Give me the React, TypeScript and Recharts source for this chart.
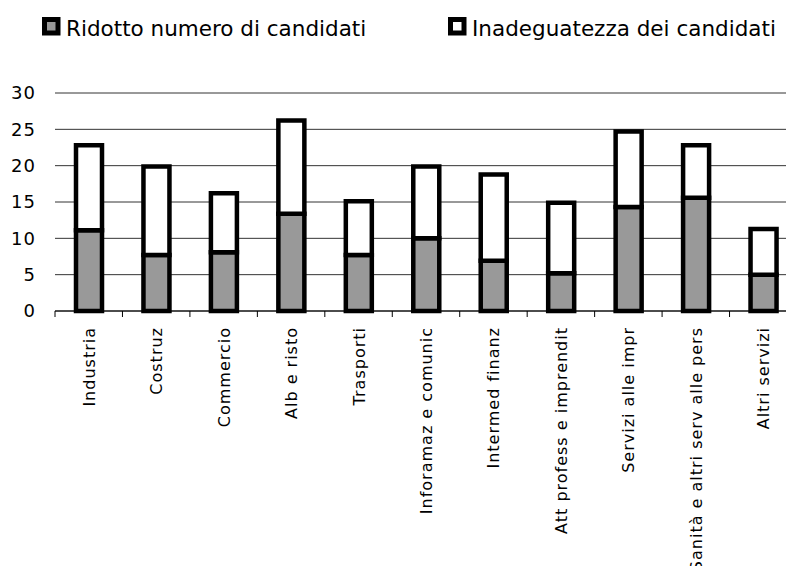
import React from "react";
import { BarChart, Bar, XAxis, YAxis, CartesianGrid } from "recharts";

const categories = [
  "Industria",
  "Costruz",
  "Commercio",
  "Alb e risto",
  "Trasporti",
  "Inforamaz e comunic",
  "Intermed finanz",
  "Att profess e imprendit",
  "Servizi alle impr",
  "Sanità e altri serv alle pers",
  "Altri servizi",
];

const seriesNames = ["Ridotto numero di candidati", "Inadeguatezza dei candidati"];

// valori (quota grigia + quota bianca sovrapposta)
const ridotto = [11.1, 7.7, 8.1, 13.4, 7.7, 10.0, 6.9, 5.2, 14.3, 15.6, 5.0];
const inadeguatezza = [11.7, 12.2, 8.1, 12.8, 7.4, 9.9, 11.9, 9.7, 10.4, 7.2, 6.3];

const yTicks = [0, 5, 10, 15, 20, 25, 30];

const data = categories.map((cat, i) => ({
  cat,
  ridotto: ridotto[i],
  inadeguatezza: inadeguatezza[i],
}));

const W = 800;
const H = 566;
const LEFT = 55;
const RIGHT = 3;
const BAND = (W - LEFT - RIGHT) / categories.length;
const FONT = "'DejaVu Sans', Verdana, sans-serif";

const CatTick = ({ x, y, payload }: any) => (
  <g>
    <line x1={x - BAND / 2} x2={x - BAND / 2} y1={y} y2={y + 6} stroke="#000" />
    <text
      transform={`translate(${x + 6},${y + 16}) rotate(-90)`}
      textAnchor="end"
      fontFamily={FONT}
      fontSize={16}
      letterSpacing={1}
      fill="#000"
    >
      {payload.value}
    </text>
  </g>
);

const ValTick = ({ x, y, payload }: any) => (
  <text
    x={x}
    y={y}
    dy="0.36em"
    textAnchor="end"
    fontFamily={FONT}
    fontSize={18}
    letterSpacing={1}
    fill="#000"
  >
    {payload.value}
  </text>
);

// legenda disegnata a mano come nell'originale
const LegendBox = () => (
  <svg
    width={786}
    height={60}
    style={{ position: "absolute", left: 0, top: 0, pointerEvents: "none" }}
  >
    {[
      { x: 42, fill: "#999999", name: seriesNames[0] },
      { x: 448, fill: "#ffffff", name: seriesNames[1] },
    ].map((it) => (
      <g key={it.name}>
        <rect x={it.x} y={17} width={18.5} height={18.5} fill="#000" />
        <rect x={it.x + 5} y={22} width={8.5} height={8.5} fill={it.fill} />
        <text
          x={it.x + 24}
          y={35.5}
          fontFamily={FONT}
          fontSize={21.5}
          fill="#000"
        >
          {it.name}
        </text>
      </g>
    ))}
  </svg>
);

export default function App() {
  return (
    <div
      style={{
        position: "absolute",
        left: 0,
        top: 0,
        width: 786,
        height: H,
        overflow: "hidden",
        background: "#fff",
      }}
    >
      <BarChart
        width={W}
        height={H}
        data={data}
        margin={{ top: 93, right: RIGHT, bottom: 0, left: 0 }}
        barCategoryGap={0}
      >
        <CartesianGrid vertical={false} stroke="#333" />
        <XAxis
          dataKey="cat"
          interval={0}
          height={255}
          tickLine={false}
          tickSize={0}
          tickMargin={0}
          axisLine={{ stroke: "#000" }}
          tick={<CatTick />}
        />
        <YAxis
          width={LEFT}
          domain={[0, 30]}
          ticks={yTicks}
          axisLine={false}
          tickLine={false}
          tickSize={0}
          tickMargin={19}
          tick={<ValTick />}
        />
        <Bar
          dataKey="ridotto"
          name={seriesNames[0]}
          stackId="a"
          fill="#999999"
          stroke="#000"
          strokeWidth={4.5}
          barSize={26}
          isAnimationActive={false}
        />
        <Bar
          dataKey="inadeguatezza"
          name={seriesNames[1]}
          stackId="a"
          fill="#ffffff"
          stroke="#000"
          strokeWidth={4.5}
          barSize={26}
          isAnimationActive={false}
        />
      </BarChart>
      <LegendBox />
    </div>
  );
}
